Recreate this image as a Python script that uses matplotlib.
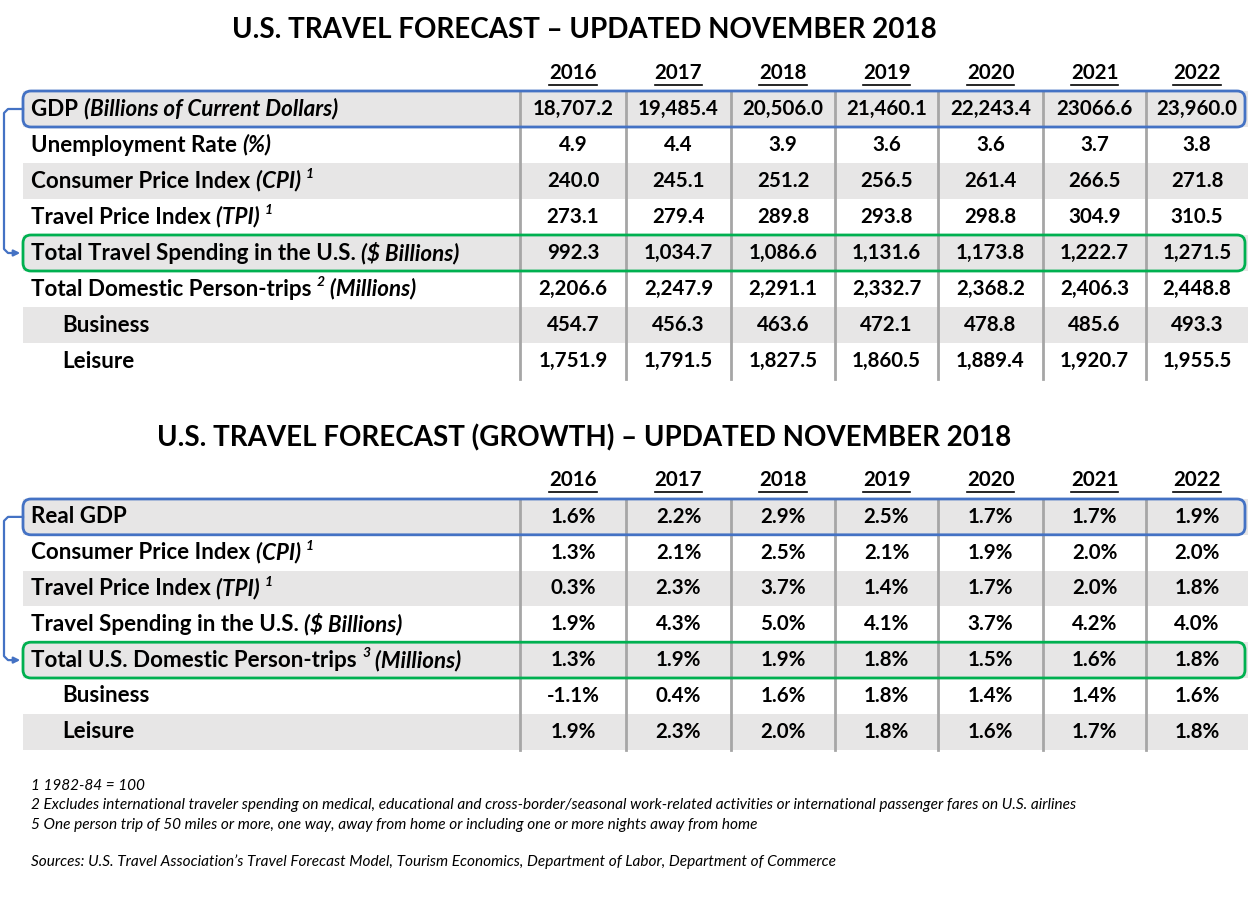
import matplotlib
matplotlib.use("Agg")
import matplotlib.pyplot as plt
from matplotlib.patches import Rectangle, FancyBboxPatch

FONT = ["Lato", "DejaVu Sans"]

years = ["2016", "2017", "2018", "2019", "2020", "2021", "2022"]

# ---- table 1 : levels
t1_title = "U.S. TRAVEL FORECAST \u2013 UPDATED NOVEMBER 2018"
t1_labels = [
    [("GDP ", 0, 0), ("(Billions of Current Dollars)", 1, 0)],
    [("Unemployment Rate ", 0, 0), ("(%)", 1, 0)],
    [("Consumer Price Index ", 0, 0), ("(CPI) ", 1, 0), ("1", 1, 1)],
    [("Travel Price Index ", 0, 0), ("(TPI) ", 1, 0), ("1", 1, 1)],
    [("Total Travel Spending in the U.S. ", 0, 0), ("($ Billions)", 1, 0)],
    [("Total Domestic Person-trips ", 0, 0), ("2", 1, 1), (" (Millions)", 1, 0)],
    [("Business", 0, 0)],
    [("Leisure", 0, 0)],
]
t1_indent = [0, 0, 0, 0, 0, 0, 1, 1]
gdp = ["18,707.2", "19,485.4", "20,506.0", "21,460.1", "22,243.4", "23066.6", "23,960.0"]
unemployment = ["4.9", "4.4", "3.9", "3.6", "3.6", "3.7", "3.8"]
cpi = ["240.0", "245.1", "251.2", "256.5", "261.4", "266.5", "271.8"]
tpi = ["273.1", "279.4", "289.8", "293.8", "298.8", "304.9", "310.5"]
travel_spending = ["992.3", "1,034.7", "1,086.6", "1,131.6", "1,173.8", "1,222.7", "1,271.5"]
person_trips = ["2,206.6", "2,247.9", "2,291.1", "2,332.7", "2,368.2", "2,406.3", "2,448.8"]
business = ["454.7", "456.3", "463.6", "472.1", "478.8", "485.6", "493.3"]
leisure = ["1,751.9", "1,791.5", "1,827.5", "1,860.5", "1,889.4", "1,920.7", "1,955.5"]
t1_values = [gdp, unemployment, cpi, tpi, travel_spending, person_trips, business, leisure]

# ---- table 2 : growth
t2_title = "U.S. TRAVEL FORECAST (GROWTH) \u2013 UPDATED NOVEMBER 2018"
t2_labels = [
    [("Real GDP", 0, 0)],
    [("Consumer Price Index ", 0, 0), ("(CPI) ", 1, 0), ("1", 1, 1)],
    [("Travel Price Index ", 0, 0), ("(TPI) ", 1, 0), ("1", 1, 1)],
    [("Travel Spending in the U.S. ", 0, 0), ("($ Billions)", 1, 0)],
    [("Total U.S. Domestic Person-trips ", 0, 0), ("3", 1, 1), (" (Millions)", 1, 0)],
    [("Business", 0, 0)],
    [("Leisure", 0, 0)],
]
t2_indent = [0, 0, 0, 0, 0, 1, 1]
g_gdp = ["1.6%", "2.2%", "2.9%", "2.5%", "1.7%", "1.7%", "1.9%"]
g_cpi = ["1.3%", "2.1%", "2.5%", "2.1%", "1.9%", "2.0%", "2.0%"]
g_tpi = ["0.3%", "2.3%", "3.7%", "1.4%", "1.7%", "2.0%", "1.8%"]
g_spending = ["1.9%", "4.3%", "5.0%", "4.1%", "3.7%", "4.2%", "4.0%"]
g_trips = ["1.3%", "1.9%", "1.9%", "1.8%", "1.5%", "1.6%", "1.8%"]
g_business = ["-1.1%", "0.4%", "1.6%", "1.8%", "1.4%", "1.4%", "1.6%"]
g_leisure = ["1.9%", "2.3%", "2.0%", "1.8%", "1.6%", "1.7%", "1.8%"]
t2_values = [g_gdp, g_cpi, g_tpi, g_spending, g_trips, g_business, g_leisure]

footnotes = [
    "1 1982-84 = 100",
    "2 Excludes international traveler spending on medical, educational and cross-border/seasonal work-related activities or international passenger fares on U.S. airlines",
    "5 One person trip of 50 miles or more, one way, away from home or including one or more nights away from home",
]
source = "Sources: U.S. Travel Association\u2019s Travel Forecast Model, Tourism Economics, Department of Labor, Department of Commerce"

W, H = 1248, 900
fig = plt.figure(figsize=(W / 100, H / 100), dpi=100)
ax = fig.add_axes([0, 0, 1, 1])
ax.set_xlim(0, W)
ax.set_ylim(H, 0)
ax.axis("off")
renderer = fig.canvas.get_renderer()

col_edges = [520, 626, 731, 835, 938, 1043, 1146, 1248]
col_centers = [(a + b) / 2 for a, b in zip(col_edges[:-1], col_edges[1:])]
SHADE = "#e7e6e6"
SEP = "#a6a6a6"
BLUE = "#4472c4"
GREEN = "#00b050"
FS = 14.8      # numbers / years
FS_LAB = 16.1  # row labels


def draw_runs(x, y, runs, size):
    for text, it, sup in runs:
        t = ax.text(x, y - 7 if sup else y, text, fontsize=size * 0.62 if sup else size,
                    fontweight="bold", style="italic" if it else "normal",
                    va="center", ha="left", family=FONT)
        x += t.get_window_extent(renderer).width


def draw_table(title, title_y, year_y, top, rh, labels, indent, values, blue_row, green_row):
    ax.text(584, title_y, title, fontsize=20, fontweight="bold", ha="center", va="center", family=FONT)
    for cx, yr in zip(col_centers, years):
        t = ax.text(cx, year_y, yr, fontsize=FS, fontweight="bold", ha="center", va="center", family=FONT)
        w = t.get_window_extent(renderer).width
        ax.plot([cx - w / 2, cx + w / 2], [year_y + 12, year_y + 12], color="black", lw=1.2)
    n = len(labels)
    for i in range(n):
        y0 = top + i * rh
        yc = y0 + rh / 2
        if i % 2 == 0:
            ax.add_patch(Rectangle((23, y0), W - 23, rh, color=SHADE, lw=0, zorder=0))
        draw_runs(31 + 31 * indent[i], yc, labels[i], FS_LAB)
        for cx, v in zip(col_centers, values[i]):
            ax.text(cx, yc, v, fontsize=FS, fontweight="bold", ha="center", va="center", family=FONT)
    for x in col_edges[:-1]:
        ax.plot([x, x], [top, top + n * rh], color=SEP, lw=2, zorder=1)
    for row, col in ((blue_row, BLUE), (green_row, GREEN)):
        y0 = top + row * rh
        ax.add_patch(FancyBboxPatch((23, y0), W - 26, rh, boxstyle="round,pad=0,rounding_size=8",
                                    fc="none", ec=col, lw=2, zorder=3))
    ya = top + blue_row * rh + rh / 2
    yb = top + green_row * rh + rh / 2
    ax.plot([23, 8, 4, 4, 8, 16], [ya, ya, ya + 4, yb - 4, yb, yb], color=BLUE, lw=1.6, zorder=3)
    ax.annotate("", xy=(23, yb), xytext=(12, yb),
                arrowprops=dict(arrowstyle="-|>", color=BLUE, lw=1.6, mutation_scale=9), zorder=3)


draw_table(t1_title, 30, 73, 91, 36, t1_labels, t1_indent, t1_values, 0, 4)
draw_table(t2_title, 438, 480, 499, 35.8, t2_labels, t2_indent, t2_values, 0, 4)

for i, s in enumerate(footnotes):
    ax.text(31, 786 + i * 19.5, s, fontsize=11.1, style="italic", ha="left", va="center", family=FONT)
ax.text(31, 862, source, fontsize=11.1, style="italic", ha="left", va="center", family=FONT)

fig.savefig("out.png", dpi=100)
